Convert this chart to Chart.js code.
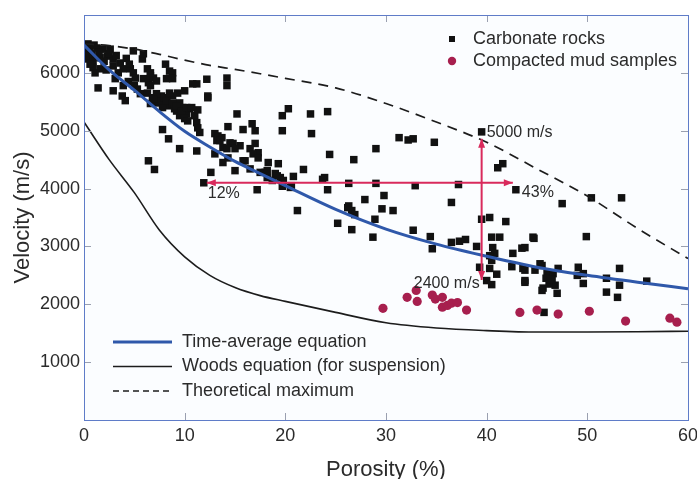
<!DOCTYPE html>
<html>
<head>
<meta charset="utf-8">
<title>Velocity vs porosity</title>
<script src="https://cdn.jsdelivr.net/npm/chart.js@4.4.1/dist/chart.umd.min.js"></script>
<style>
  html, body { margin: 0; padding: 0; background: #ffffff; }
  #wrap { position: relative; width: 697px; height: 479px; }
</style>
</head>
<body>
<div id="wrap"><canvas id="chart"></canvas></div>
<script>
// values
const porosityTicks = [0, 10, 20, 30, 40, 50, 60];
const velocityTicks = [1000, 2000, 3000, 4000, 5000, 6000];

const curvePorosity = [0, 2.5, 5, 7.5, 10, 12.5, 15, 17.5, 20, 25, 30, 35, 40, 45, 50, 55, 60];
const timeAverageVelocity = [6480, 6050, 5700, 5330, 4990, 4720, 4470, 4260, 4050, 3640, 3300, 3040, 2830, 2640, 2500, 2380, 2270];
const woodsVelocity = [5150, 4500, 3930, 3280, 2820, 2500, 2290, 2150, 2050, 1860, 1680, 1590, 1545, 1520, 1520, 1525, 1535];
const theoreticalMaxVelocity = [6500, 6470, 6410, 6320, 6220, 6130, 6060, 5985, 5905, 5740, 5470, 5150, 4800, 4340, 3870, 3310, 2790];

const carbonateRocks = [
  [0.1,6380],[0.6,6410],[1.3,6430],[1.9,6410],[2.6,6410],[0.3,6240],[0.9,6210],[1.6,6260],[2.3,6290],[2.9,6240],
  [0.9,6090],[1.6,6070],[0.6,6150],[2.9,6120],[3.6,6170],[3.9,6070],[3.4,6000],[4.9,6380],[5.8,6240],[5.9,6330],
  [4.6,6070],[4.9,6000],[5.1,5910],[6.3,6070],[6.6,6000],[5.9,5900],[6.4,5830],[3.9,5780],[3.8,5600],[4.1,5520],
  [2.9,5690],[1.4,5740],[5.3,5720],[5.6,5640],[6.3,5650],[6.8,5570],[7.2,5480],[6.6,5470],[7.7,5600],[8.2,5550],
  [8.5,5430],[7.8,5400],[7.5,5520],[8.8,5600],[9.5,5480],[9.2,5340],[9.8,5400],[10.2,5290],[9.5,5260],[10.8,5810],
  [8.5,6030],[8.8,6000],[8.1,6150],[10.5,5380],[11,5260],[11.2,5140],[0,6450],[0.4,6500],[1,6480],[1.5,6350],
  [2,6200],[2.2,6050],[0.2,6300],[0.8,6330],[2.5,6330],[3.2,6300],[4.2,6250],[4.5,6150],[3.1,5900],[1.1,6000],
  [4.4,5850],[5,5780],[6.6,5950],[6.9,5910],[7.2,5860],[6.6,5780],[7.2,5640],[8,5570],[8.2,5510],[8.8,5470],
  [9,5380],[9.2,5430],[9.7,5340],[10,5210],[10.3,5170],[10.2,5400],[10.7,5400],[6.9,5550],[12.2,5890],[11.2,5810],
  [12.3,5600],[9.3,5650],[10,5690],[8.5,5650],[14.2,5910],[14.2,5780],[8.8,5900],[8.2,5900],[12.3,5570],
  [11.3,5360],[15.2,5290],[20.3,5380],[19.7,5260],[22.5,5290],[24.2,5330],[19.7,5000],[22.6,4950],[14.3,5070],[15.8,5020],
  [16.7,5120],[17,5000],[7.8,5020],[8.4,4860],[9.5,4690],[11.2,4650],[11.3,5050],[11.5,4970],[13,4950],[13.2,4830],
  [13.8,4710],[14.5,4790],[15.5,4740],[13,4600],[13.8,4450],[15,4310],[15.8,4480],[17,4780],[17.3,4620],[18.3,4450],
  [18,4280],[18.2,4190],[19,4260],[19.5,4190],[19.8,4140],[20.6,4050],[20.8,4210],[21.8,4330],[24.4,4590],[6.4,4480],
  [7,4330],[11.9,4100],[12.6,4280],[17.2,3980],[21.2,3620],[23.9,4190],[24.2,3980],[25.2,3400],[26.2,3670],
  [13.3,4910],[13.7,4880],[14.8,4780],[15,4690],[16.5,4690],[16.8,4600],[17.3,4530],[14.2,4690],[13.5,4830],[16,4480],
  [16.5,4340],[17.5,4280],[18.2,4310],[19.3,4430],[19.2,4220],[14.3,4530],[18.7,4140],[19.7,4040],[20.5,4020],[23.7,4160],
  [26.8,4500],[29,4690],[31.3,4880],[32.2,4840],[32.7,4860],[34.8,4800],[39.5,4980],[41.1,4360],[41.6,4430],[26.3,4090],
  [29,4090],[32.9,4050],[37.2,4070],[42.9,3980],[36.5,3760],[47.5,3740],[50.4,3840],[53.4,3840],[26.3,3700],[26.6,3620],
  [26.9,3550],[27.9,3810],[29.8,3880],[29.6,3650],[30.7,3620],[26.6,3290],[28.9,3470],[28.7,3160],[32.7,3280],[34.4,3170],
  [39.5,3470],[40.3,3500],[41.9,3430],[44.6,3160],[49.9,3170],
  [34.6,2960],[36.5,3070],[37.3,3090],[37.9,3120],[39,3000],[40.5,3160],[41.3,3160],[40.6,2980],[40.8,2880],[40.3,2840],
  [42.6,2880],[43.5,2970],[43.8,2980],[44.7,3140],[39.3,2640],[40.3,2620],[40.5,2760],[42.5,2650],[43.6,2620],[43.8,2410],
  [40,2410],[40.5,2340],[41,2520],[45.5,2670],[45.6,2280],[46,2530],[46.3,2410],[46.6,2530],[46.8,2330],[47,2190],
  [45.5,2240],[47.1,2620],[49.1,2640],[49,2500],[49.6,2530],[49.6,2360],[51.9,2450],[51.9,2210],[53.2,2620],[53.2,2330],
  [53,2120],[55.9,2400],[45.7,1860],[43.8,2590],[43.8,2380],[44.8,2590],[45.9,2450],[46.2,2350],[46.5,2430],[45.3,2700]
];

const mudSamples = [
  [29.7,1930],[32.1,2120],[33,2240],[33.1,2050],[34.6,2160],[34.9,2090],[35.6,2120],[35.6,1950],[36.1,1980],[36.5,2020],
  [37.1,2030],[38,1900],[43.3,1860],[45,1900],[47.1,1830],[50.2,1880],[53.8,1710],[58.2,1760],[58.9,1690]
];

const arrowAcross = [[12.2,4100],[42.6,4100]];
const arrowUpDown = [[39.5,2420],[39.5,4860]];
const noteText = ['5000 m/s', '43%', '12%', '2400 m/s'];
const notePoint = [[39.5,4980],[42.9,3980],[12.2,4100],[39.5,2420]];

const FONT = "'Liberation Sans', Arial, Helvetica, sans-serif";
const TEXT = '#2b2b2b';
const RED = '#d92a5c';

Chart.defaults.font.family = FONT;
Chart.defaults.color = TEXT;

const pts = arr => arr.map(p => ({ x: p[0], y: p[1] }));
const curve = ys => curvePorosity.map((x, i) => ({ x: x, y: ys[i] }));

// inward ticks, frame, arrowheads, notes and the two legends
const decorations = {
  id: 'decorations',
  beforeDraw(chart) {
    const a = chart.chartArea, ctx = chart.ctx;
    ctx.save();
    ctx.fillStyle = '#fbfdff';
    ctx.fillRect(a.left, a.top, a.right - a.left, a.bottom - a.top);
    ctx.restore();
  },
  afterDatasetsDraw(chart) {
    const ctx = chart.ctx, xs = chart.scales.x, ys = chart.scales.y;
    ctx.save();
    ctx.fillStyle = RED;
    const head = (from, to) => {
      const x0 = xs.getPixelForValue(from[0]), y0 = ys.getPixelForValue(from[1]);
      const x1 = xs.getPixelForValue(to[0]), y1 = ys.getPixelForValue(to[1]);
      const ang = Math.atan2(y1 - y0, x1 - x0);
      ctx.beginPath();
      ctx.moveTo(x1, y1);
      ctx.lineTo(x1 - 9 * Math.cos(ang) + 3.5 * Math.sin(ang), y1 - 9 * Math.sin(ang) - 3.5 * Math.cos(ang));
      ctx.lineTo(x1 - 9 * Math.cos(ang) - 3.5 * Math.sin(ang), y1 - 9 * Math.sin(ang) + 3.5 * Math.cos(ang));
      ctx.closePath();
      ctx.fill();
    };
    head(arrowAcross[1], arrowAcross[0]);
    head(arrowAcross[0], arrowAcross[1]);
    head(arrowUpDown[1], arrowUpDown[0]);
    head(arrowUpDown[0], arrowUpDown[1]);

    ctx.font = '16px ' + FONT;
    ctx.fillStyle = TEXT;
    ctx.textBaseline = 'middle';
    const shift = [[5, 1, 'left'], [6, 3, 'left'], [1, 11, 'left'], [-2, 4, 'right']];
    noteText.forEach((t, i) => {
      ctx.textAlign = shift[i][2];
      ctx.fillText(t, xs.getPixelForValue(notePoint[i][0]) + shift[i][0], ys.getPixelForValue(notePoint[i][1]) + shift[i][1]);
    });
    ctx.restore();
  },
  afterDraw(chart) {
    const a = chart.chartArea, ctx = chart.ctx, xs = chart.scales.x, ys = chart.scales.y;
    const ds = chart.data.datasets;
    ctx.save();
    // ticks pointing in
    ctx.strokeStyle = '#9aa0b0';
    ctx.lineWidth = 1;
    ctx.beginPath();
    xs.ticks.forEach(t => {
      if (t.value <= xs.min || t.value >= xs.max) return;
      const x = Math.round(xs.getPixelForValue(t.value)) + 0.5;
      ctx.moveTo(x, a.bottom); ctx.lineTo(x, a.bottom - 7);
      ctx.moveTo(x, a.top); ctx.lineTo(x, a.top + 7);
    });
    ys.ticks.forEach(t => {
      const y = Math.round(ys.getPixelForValue(t.value)) + 0.5;
      ctx.moveTo(a.left, y); ctx.lineTo(a.left + 7, y);
      ctx.moveTo(a.right, y); ctx.lineTo(a.right - 7, y);
    });
    ctx.stroke();
    // frame
    ctx.strokeStyle = '#5f7cc8';
    ctx.strokeRect(Math.round(a.left) + 0.5, Math.round(a.top) + 0.5, Math.round(a.right - a.left), Math.round(a.bottom - a.top));

    // legend, top right
    ctx.font = '18px ' + FONT;
    ctx.textBaseline = 'middle';
    ctx.textAlign = 'left';
    const carb = ds[6], mud = ds[5];
    ctx.fillStyle = carb.backgroundColor;
    ctx.fillRect(a.right - 239, a.top + 21, 6, 6);
    ctx.fillStyle = mud.backgroundColor;
    ctx.beginPath();
    ctx.arc(a.right - 236, a.top + 46, 4.2, 0, Math.PI * 2);
    ctx.fill();
    ctx.fillStyle = TEXT;
    ctx.fillText(carb.label, a.right - 215, a.top + 24);
    ctx.fillText(mud.label, a.right - 215, a.top + 46);

    // legend, bottom left
    [2, 3, 4].forEach((k, i) => {
      const d = ds[k];
      const y = a.bottom - 78 + i * 24.5;
      ctx.strokeStyle = d.borderColor;
      ctx.lineWidth = d.borderWidth;
      ctx.setLineDash(d.borderDash && d.borderDash.length ? [6, 4] : []);
      ctx.beginPath();
      ctx.moveTo(a.left + 29, y);
      ctx.lineTo(a.left + 88, y);
      ctx.stroke();
      ctx.setLineDash([]);
      ctx.fillStyle = TEXT;
      ctx.fillText(d.label, a.left + 98, y);
    });
    ctx.restore();
  }
};

new Chart(document.getElementById('chart'), {
  type: 'scatter',
  data: {
    datasets: [
      { type: 'line', label: 'arrow across', data: pts(arrowAcross), borderColor: RED, borderWidth: 2, pointRadius: 0 },
      { type: 'line', label: 'arrow up-down', data: pts(arrowUpDown), borderColor: RED, borderWidth: 2, pointRadius: 0 },
      { type: 'line', label: 'Time-average equation', data: curve(timeAverageVelocity), borderColor: '#2f58aa', borderWidth: 3, pointRadius: 0, cubicInterpolationMode: 'monotone' },
      { type: 'line', label: 'Woods equation (for suspension)', data: curve(woodsVelocity), borderColor: '#1c1c1c', borderWidth: 1.6, pointRadius: 0, cubicInterpolationMode: 'monotone' },
      { type: 'line', label: 'Theoretical maximum', data: curve(theoreticalMaxVelocity), borderColor: '#1c1c1c', borderWidth: 1.7, borderDash: [10, 7], pointRadius: 0, cubicInterpolationMode: 'monotone' },
      { label: 'Compacted mud samples', data: pts(mudSamples), pointStyle: 'circle', pointRadius: 4.6, backgroundColor: '#a71f4e', borderWidth: 0 },
      { label: 'Carbonate rocks', data: pts(carbonateRocks), pointStyle: 'rect', pointRadius: 5.3, backgroundColor: '#111111', borderWidth: 0 }
    ]
  },
  options: {
    responsive: true,
    maintainAspectRatio: false,
    animation: false,
    devicePixelRatio: 1,
    layout: { padding: { top: 15, right: 9, left: 0, bottom: 0 } },
    plugins: { legend: { display: false }, tooltip: { enabled: false } },
    scales: {
      x: {
        type: 'linear', min: 0, max: 60,
        afterBuildTicks: s => { s.ticks = porosityTicks.map(v => ({ value: v })); },
        afterFit: s => { s.height = 59; s.paddingLeft = 0; s.paddingRight = 0; },
        grid: { display: false, drawTicks: false },
        border: { display: false },
        ticks: { padding: 5, font: { size: 18 }, color: TEXT, maxRotation: 0, callback: v => String(v) },
        title: { display: true, text: 'Porosity (%)', font: { size: 22, lineHeight: 1 }, color: TEXT, padding: { top: 0, bottom: -2 } }
      },
      y: {
        type: 'linear', min: 0, max: 7000,
        afterBuildTicks: s => { s.ticks = velocityTicks.map(v => ({ value: v })); },
        afterFit: s => { s.width = 84; s.paddingTop = 0; s.paddingBottom = 0; },
        grid: { display: false, drawTicks: false },
        border: { display: false },
        ticks: { padding: 4, font: { size: 18 }, color: TEXT, callback: v => String(v) },
        title: { display: true, text: 'Velocity (m/s)', font: { size: 22, lineHeight: 1 }, color: TEXT, padding: { top: 12, bottom: 0 } }
      }
    }
  },
  plugins: [decorations]
});
</script>
</body>
</html>
